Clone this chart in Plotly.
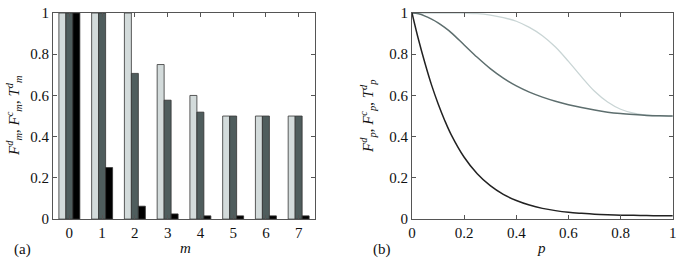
import plotly.graph_objects as go

# ---- data: panel (a) ----
m_vals = [0, 1, 2, 3, 4, 5, 6, 7]
F_d_m = [1.0, 1.0, 1.0, 0.75, 0.60, 0.50, 0.50, 0.50]
F_c_m = [1.0, 1.0, 0.707, 0.577, 0.519, 0.50, 0.50, 0.50]
T_d_m = [1.0, 0.25, 0.0625, 0.025, 0.0156, 0.0156, 0.0156, 0.0156]

# ---- data: panel (b) ----
p_vals = [0.0, 0.025, 0.05, 0.075, 0.1, 0.125, 0.15, 0.2, 0.25, 0.3, 0.35, 0.4, 0.45, 0.5,
          0.55, 0.6, 0.65, 0.7, 0.75, 0.8, 0.85, 0.9, 0.95, 1.0]
F_d_p = [1.0, 1.0, 1.0, 1.0, 1.0, 1.0, 1.0, 0.999, 0.997, 0.99, 0.978, 0.96, 0.93, 0.89,
         0.835, 0.765, 0.69, 0.62, 0.568, 0.533, 0.514, 0.505, 0.501, 0.5]
F_c_p = [1.0, 0.996, 0.985, 0.97, 0.952, 0.93, 0.905, 0.845, 0.785, 0.73, 0.684, 0.646, 0.616, 0.592,
         0.572, 0.555, 0.541, 0.529, 0.519, 0.512, 0.507, 0.503, 0.501, 0.5]
T_d_p = [1.0, 0.87, 0.755, 0.65, 0.56, 0.48, 0.41, 0.3, 0.22, 0.162, 0.12, 0.09, 0.068, 0.052,
         0.041, 0.033, 0.028, 0.024, 0.021, 0.019, 0.018, 0.017, 0.0165, 0.016]

x_ticks_a = [0, 1, 2, 3, 4, 5, 6, 7]
x_ticks_b = [0, 0.2, 0.4, 0.6, 0.8, 1]
x_ticktext_b = ["0", "0.2", "0.4", "0.6", "0.8", "1"]
y_ticks = [0, 0.2, 0.4, 0.6, 0.8, 1]
y_ticktext = ["0", "0.2", "0.4", "0.6", "0.8", "1"]

LIGHT = "#d3dbdb"
DARK = "#4f5d5d"
BLACK = "#000000"
FONT = "Times New Roman, Liberation Serif, serif"

fig = go.Figure()
edge = dict(color="#333333", width=0.8)
fig.add_trace(go.Bar(x=m_vals, y=F_d_m, marker=dict(color=LIGHT, line=edge), xaxis="x", yaxis="y"))
fig.add_trace(go.Bar(x=m_vals, y=F_c_m, marker=dict(color=DARK, line=edge), xaxis="x", yaxis="y"))
fig.add_trace(go.Bar(x=m_vals, y=T_d_m, marker=dict(color=BLACK, line=edge), xaxis="x", yaxis="y"))

fig.add_trace(go.Scatter(x=p_vals, y=F_d_p, mode="lines", line=dict(color="#c9d5d5", width=1.3, shape="spline", smoothing=1.0), xaxis="x2", yaxis="y2"))
fig.add_trace(go.Scatter(x=p_vals, y=F_c_p, mode="lines", line=dict(color="#5d6e6e", width=1.5, shape="spline", smoothing=1.0), xaxis="x2", yaxis="y2"))
fig.add_trace(go.Scatter(x=p_vals, y=T_d_p, mode="lines", line=dict(color="#222222", width=1.5, shape="spline", smoothing=1.0), xaxis="x2", yaxis="y2"))

ax_common = dict(showline=True, linecolor="#555555", linewidth=1, mirror="ticks",
                 ticks="inside", ticklen=4, tickcolor="#555555", showgrid=False,
                 zeroline=False, automargin=False,
                 tickfont=dict(family=FONT, size=15, color="#111"))

fig.update_layout(
    width=681, height=263,
    margin=dict(l=0, r=0, t=0, b=0, pad=0, autoexpand=False),
    paper_bgcolor="white", plot_bgcolor="white",
    showlegend=False,
    font=dict(family=FONT),
    barmode="group", bargap=0.36, bargroupgap=0.0,
    xaxis=dict(domain=[0.0778, 0.4626], range=[-0.5, 7.5], tickvals=x_ticks_a,
               anchor="y", **ax_common),
    yaxis=dict(domain=[0.167, 0.9506], range=[0, 1.0001], tickvals=y_ticks, ticktext=y_ticktext,
               anchor="x", **ax_common),
    xaxis2=dict(domain=[0.605, 0.988], range=[-0.0001, 1.0001], tickvals=x_ticks_b, ticktext=x_ticktext_b,
                anchor="y2", **ax_common),
    yaxis2=dict(domain=[0.167, 0.9506], range=[0, 1.0001], tickvals=y_ticks, ticktext=y_ticktext,
                anchor="x2", **ax_common),
)

tf = dict(family=FONT, size=15, color="#111")
ylab_a = "<i>F</i><sup><i>d</i></sup><sub><i>m</i></sub>, <i>F</i><sup><i>c</i></sup><sub><i>m</i></sub>, <i>T</i><sup><i>d</i></sup><sub><i>m</i></sub>"
ylab_b = "<i>F</i><sup><i>d</i></sup><sub><i>p</i></sub>, <i>F</i><sup><i>c</i></sup><sub><i>p</i></sub>, <i>T</i><sup><i>d</i></sup><sub><i>p</i></sub>"
anns = [
    dict(x=14 / 681, y=1 - 116 / 263, text=ylab_a, textangle=-90),
    dict(x=368 / 681, y=1 - 116 / 263, text=ylab_b, textangle=-90),
    dict(x=22 / 681, y=1 - 249 / 263, text="(a)"),
    dict(x=382 / 681, y=1 - 249 / 263, text="(b)"),
    dict(x=185 / 681, y=1 - 248 / 263, text="<i>m</i>"),
    dict(x=541 / 681, y=1 - 248 / 263, text="<i>p</i>"),
]
for a in anns:
    fig.add_annotation(xref="paper", yref="paper", showarrow=False, font=tf,
                       xanchor="center", yanchor="middle", **a)

fig.write_html("out.html", post_script="document.body.style.margin='0px';",
               config={"displayModeBar": False})
